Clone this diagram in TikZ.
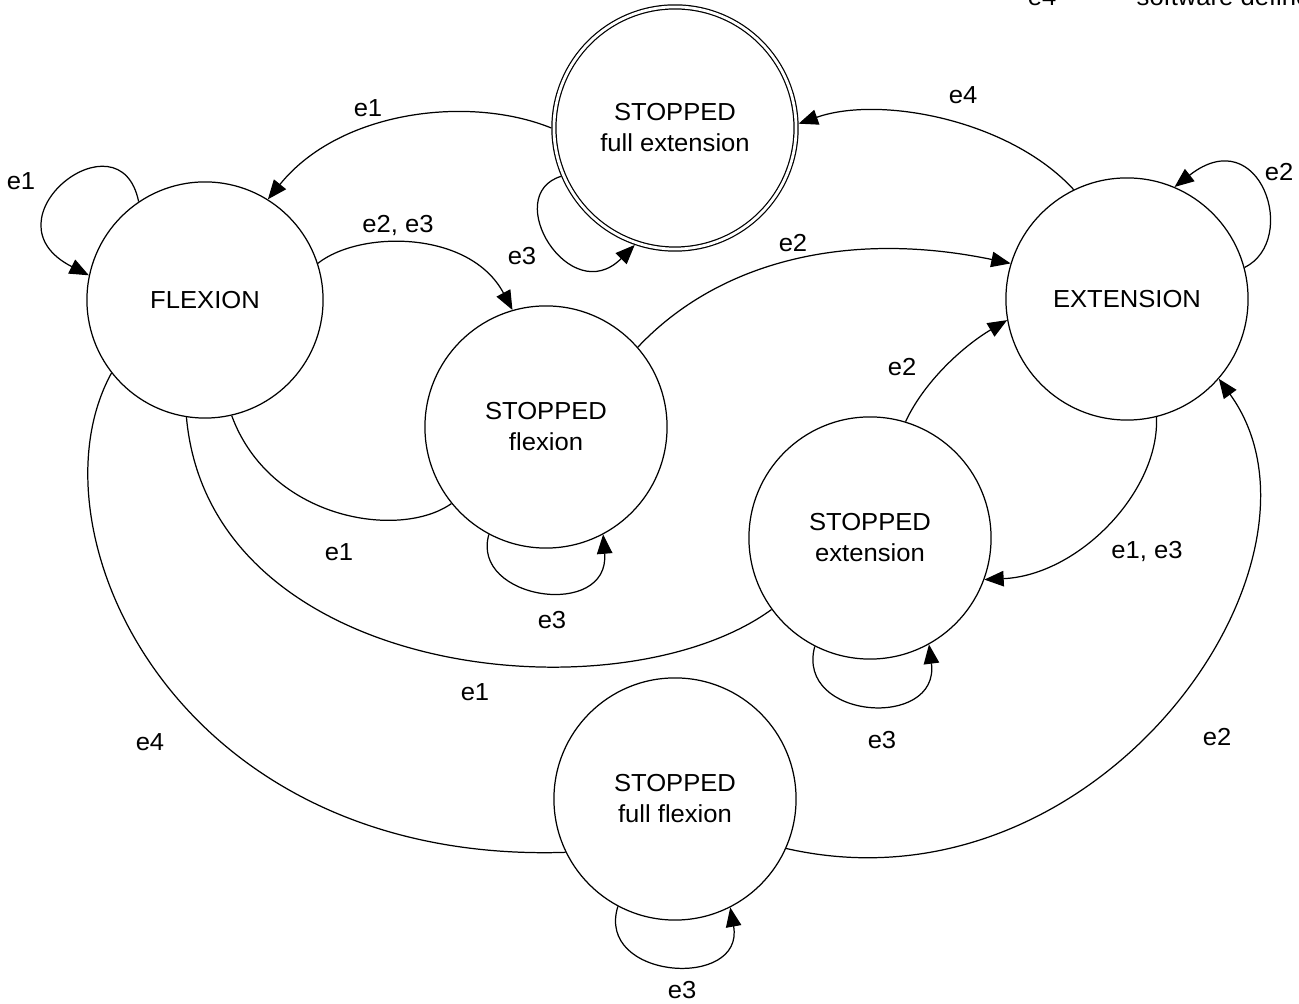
\documentclass[tikz,border=0pt]{standalone}
\usepackage{fontspec}
\setmainfont{Liberation Sans}[FakeStretch=1.04]
\usetikzlibrary{arrows.meta}
\begin{document}
\begin{tikzpicture}[x=0.01cm,y=-0.01cm,
  every node/.style={font=\fontsize{7}{8.8}\selectfont},
  state/.style={circle,draw,line width=0.35pt,minimum size=2.42cm,inner sep=0pt,align=center},
  edge/.style={line width=0.35pt,-{Triangle[length=5.5pt,width=4.4pt]}},
  plain/.style={line width=0.35pt},
  lbl/.style={inner sep=0pt}]
\useasboundingbox (0,0) rectangle (1299,1004);
\clip (0,0) rectangle (1299,1004);
\fill[white] (0,0) rectangle (1299,1004);

% top-right legend remnant
\node[lbl,anchor=base east] (lg1) at (1057,6) {e4};
\node[lbl,anchor=base west] (lg2) at (1136,6) {software defined};

% states
\node[state,double,double distance=0.8pt,outer sep=0.75pt,minimum size=2.42cm] (FE) at (675,128) {STOPPED\\full extension};
\node[state,minimum size=2.36cm] (FL) at (205,300) {FLEXION};
\node[state] (EX) at (1127,299) {EXTENSION};
\node[state] (SF) at (546,427) {STOPPED\\flexion};
\node[state] (SE) at (870,538) {STOPPED\\extension};
\node[state] (SFF) at (675,799) {STOPPED\\full flexion};

% edges
\draw[edge] (FE.180) .. controls (470,95) and (340,110) .. (FL.58);
\draw[edge] (FE.203) .. controls (500,195) and (570,310) .. (FE.251);
\draw[edge] (EX.116) .. controls (1010,120) and (880,95) .. (FE.2);
\draw[edge] (FL.124) .. controls (120,110) and (-20,220) .. (FL.168);
\draw[edge] (EX.15) .. controls (1300,240) and (1260,120) .. (EX.67);
\draw[edge] (FL.18) .. controls (360,230) and (470,230) .. (SF.106);
\draw[plain] (SF.219) .. controls (400,540) and (270,520) .. (FL.283);
\draw[edge] (SF.242) .. controls (470,600) and (610,620) .. (SF.298);
\draw[edge] (SF.41) .. controls (720,260) and (850,230) .. (EX.163);
\draw[edge] (SE.73) .. controls (925,380) and (965,345) .. (EX.190);
\draw[edge] (EX.284) .. controls (1160,490) and (1080,575) .. (SE.340);
\draw[edge] (SE.243) .. controls (795,720) and (940,730) .. (SE.299);
\draw[plain] (FL.261) .. controls (210,680) and (620,720) .. (SE.216);
\draw[plain] (FL.218) .. controls (25,530) and (175,865) .. (SFF.206);
\draw[edge] (SFF.336) .. controls (1100,920) and (1350,560) .. (EX.319);
\draw[edge] (SFF.242) .. controls (595,980) and (745,990) .. (SFF.297);

% labels
\node[lbl] (l1) at (368,108) {e1};
\node[lbl] (l2) at (522,256) {e3};
\node[lbl] (l3) at (963,95) {e4};
\node[lbl] (l4) at (21,181) {e1};
\node[lbl] (l5) at (1279,172) {e2};
\node[lbl] (l6) at (398,225) {e2, e3};
\node[lbl] (l7) at (339,552) {e1};
\node[lbl] (l8) at (552,620) {e3};
\node[lbl] (l9) at (793,243) {e2};
\node[lbl] (l10) at (902,367) {e2};
\node[lbl] (l11) at (1147,551) {e1, e3};
\node[lbl] (l12) at (882,740) {e3};
\node[lbl] (l13) at (475,692) {e1};
\node[lbl] (l14) at (150,742) {e4};
\node[lbl] (l15) at (1217,737) {e2};
\node[lbl] (l16) at (682,990) {e3};
\end{tikzpicture}
\end{document}
